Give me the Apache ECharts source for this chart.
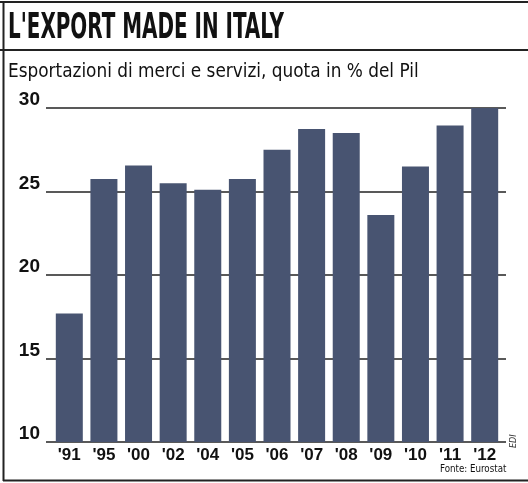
<!DOCTYPE html>
<html><head><meta charset="utf-8">
<script src="https://cdn.jsdelivr.net/npm/echarts@6/dist/echarts.min.js"></script>
<style>html,body{margin:0;padding:0;background:#fff}#c{width:528px;height:483px}</style>
</head><body><div id="c"></div>
<script>
const categories = ["'91","'95","'00","'02","'04","'05","'06","'07","'08","'09","'10","'11","'12"];
const values = [17.7, 25.75, 26.55, 25.5, 25.1, 25.75, 27.5, 28.75, 28.5, 23.6, 26.5, 28.95, 30.1];
const yTicks = {min: 10, max: 30, interval: 5};
const title = "L'EXPORT MADE IN ITALY";
const subtitle = "Esportazioni di merci e servizi, quota in % del Pil";
const source = "Fonte: Eurostat";

const chart = echarts.init(document.getElementById('c'), null, {renderer: 'canvas'});
const narrow = '"DejaVu Sans Condensed", "Liberation Sans Narrow", "Liberation Sans", sans-serif';
chart.setOption({
  animation: false,
  backgroundColor: '#fff',
  grid: [
    {left: 46, right: 22, top: 108, bottom: 41},
    {left: 52, right: 26, top: 108, bottom: 41}
  ],
  xAxis: [
    {gridIndex: 0, type: 'value', min: 0, max: 1, show: false},
    {gridIndex: 1, type: 'category', data: categories,
     axisLine: {show: false}, axisTick: {show: false},
     axisLabel: {color: '#111', fontFamily: '"Liberation Sans", Arial, sans-serif', fontWeight: 'bold', fontSize: 17, margin: 5}}
  ],
  yAxis: [
    {gridIndex: 0, type: 'value', min: yTicks.min, max: yTicks.max, interval: yTicks.interval,
     axisLine: {show: false}, axisTick: {show: false},
     axisLabel: {color: '#111', fontFamily: '"Liberation Sans", Arial, sans-serif', fontWeight: 'bold', fontSize: 19, margin: 6, verticalAlign: 'bottom', lineHeight: 16},
     splitLine: {lineStyle: {color: '#222', width: 1.5}}},
    {gridIndex: 1, type: 'value', min: yTicks.min, max: yTicks.max, show: false}
  ],
  series: [{
    type: 'bar', xAxisIndex: 1, yAxisIndex: 1, data: values, barWidth: 27,
    itemStyle: {color: '#485471'}, z: 3
  }],
  graphic: [
    {type: 'line', shape: {x1: 0, y1: 2, x2: 528, y2: 2}, style: {stroke: '#222', lineWidth: 2}},
    {type: 'line', shape: {x1: 0, y1: 50, x2: 528, y2: 50}, style: {stroke: '#222', lineWidth: 2}},
    {type: 'line', shape: {x1: 3.5, y1: 2, x2: 3.5, y2: 481}, style: {stroke: '#222', lineWidth: 2}},
    {type: 'line', shape: {x1: 3, y1: 480.5, x2: 528, y2: 480.5}, style: {stroke: '#222', lineWidth: 2}},
    {type: 'text', x: 8, y: 11, scaleX: 0.615, style: {text: title, fill: '#111', font: 'bold 36px ' + narrow}},
    {type: 'text', x: 8, y: 62, scaleX: 0.94, style: {text: subtitle, fill: '#111', font: '20px ' + narrow}},
    {type: 'text', x: 440, y: 464, scaleX: 0.88, style: {text: source, fill: '#111', font: '11px ' + narrow}},
    {type: 'text', x: 509, y: 448, rotation: Math.PI / 2, style: {text: 'EDI', fill: '#333', font: 'italic 9px ' + narrow}}
  ]
});
</script></body></html>
